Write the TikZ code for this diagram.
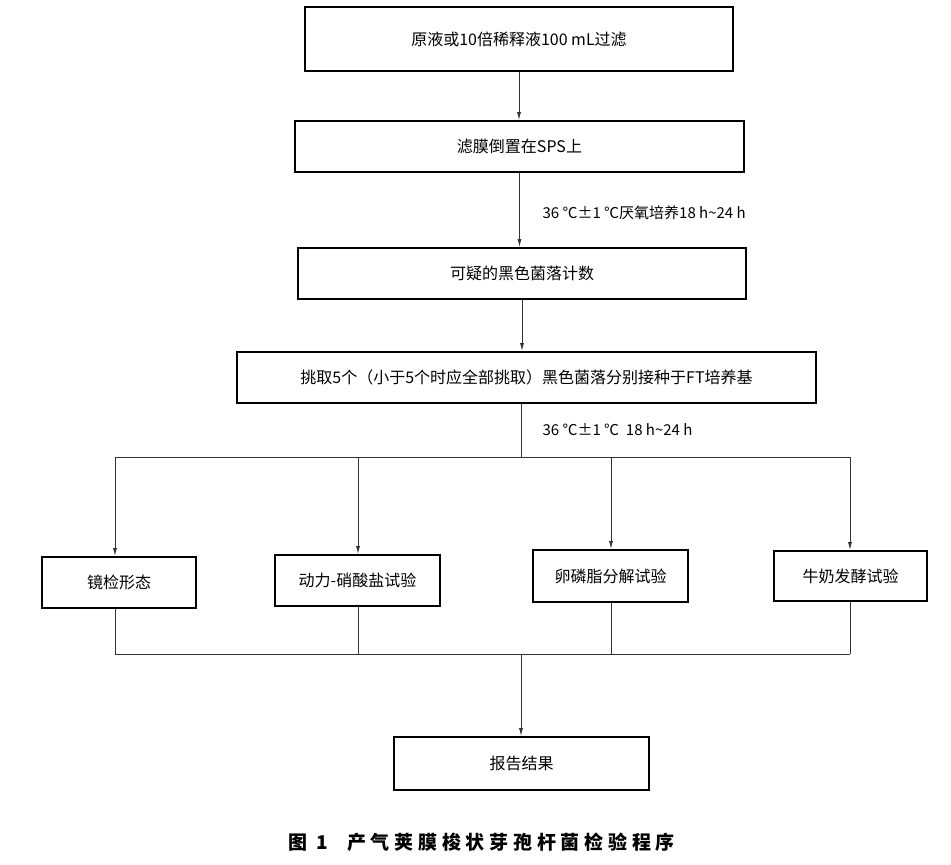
\documentclass[tikz,border=0pt]{standalone}
\usepackage{fontspec}
\setmainfont{Noto Sans CJK SC}
\newfontfamily\titlefont[LetterSpace=25]{Noto Sans CJK SC}
\usetikzlibrary{arrows.meta}

\begin{document}
\begin{tikzpicture}[x=1pt,y=-1pt,
  kuang/.style={draw=black,line width=1.6pt,minimum height=51pt,inner sep=0pt,font=\fontsize{16}{18}\selectfont},
  xian/.style={draw=black!80,line width=1pt},
  jiantou/.style={xian,-{Latex[length=8pt,width=4pt]}},
  zhu/.style={anchor=west,font=\fontsize{15}{17}\selectfont}]
\useasboundingbox (0,0) rectangle (951,865);
%上部方框
\node[kuang,minimum width=428pt,minimum height=64pt] (yuanye) at (519,39) {原液或10倍稀释液100 mL过滤};
\node[kuang,minimum width=449pt] (lvmo) at (519.5,146.5) {滤膜倒置在SPS上};
\node[kuang,minimum width=448pt] (jishu) at (522,273.5) {可疑的黑色菌落计数};
\node[kuang,minimum width=579pt] (tiaoqu) at (526.5,377.5) {挑取5个（小于5个时应全部挑取）黑色菌落分别接种于FT培养基};
%四项试验
\node[kuang,minimum width=154pt] (jingjian) at (119,582.5) {镜检形态};
\node[kuang,minimum width=165pt] (dongli) at (357.5,580.5) {动力-硝酸盐试验};
\node[kuang,minimum width=155pt,minimum height=52pt] (luanlin) at (610.5,576) {卵磷脂分解试验};
\node[kuang,minimum width=153pt,minimum height=50pt] (niunai) at (850.5,576) {牛奶发酵试验};
\node[kuang,minimum width=255pt,minimum height=53pt] (baogao) at (521.5,763.5) {报告结果};
%培养条件
\node[zhu] (tiaojian1) at (539,213) {36 ℃±1 ℃厌氧培养18 h\textasciitilde 24 h};
\node[zhu] (tiaojian2) at (539,430) {36 ℃±1 ℃\ \ 18 h\textasciitilde 24 h};
%箭头
\draw[jiantou] (yuanye.south) -- (yuanye.south |- lvmo.north);
\draw[jiantou] (lvmo.south) -- (lvmo.south |- jishu.north);
\draw[jiantou] (jishu.south) -- (jishu.south |- tiaoqu.north);
%分支线
\coordinate (fen) at (521,457);
\coordinate (f1) at (115,457);
\coordinate (f2) at (358,457);
\coordinate (f3) at (611,457);
\coordinate (f4) at (850,457);
\draw[xian] (fen |- tiaoqu.south) -- (fen);
\draw[xian] (f1) -- (f4);
\foreach \i/\n in {1/jingjian,2/dongli,3/luanlin,4/niunai}
  \draw[jiantou] (f\i) -- (f\i |- \n.north);
%汇合线
\coordinate (hui) at (521,654);
\foreach \i/\n in {1/jingjian,2/dongli,3/luanlin,4/niunai}
  \draw[xian] (f\i |- \n.south) -- (f\i |- hui);
\draw[xian] (f1 |- hui) -- (f4 |- hui);
\draw[jiantou] (hui) -- (hui |- baogao.north);
%图题
\node[anchor=west,font=\titlefont\bfseries\fontsize{19}{21}\selectfont] (tuti) at (285,842) {图 1\quad 产气荚膜梭状芽孢杆菌检验程序};
\end{tikzpicture}
\end{document}
